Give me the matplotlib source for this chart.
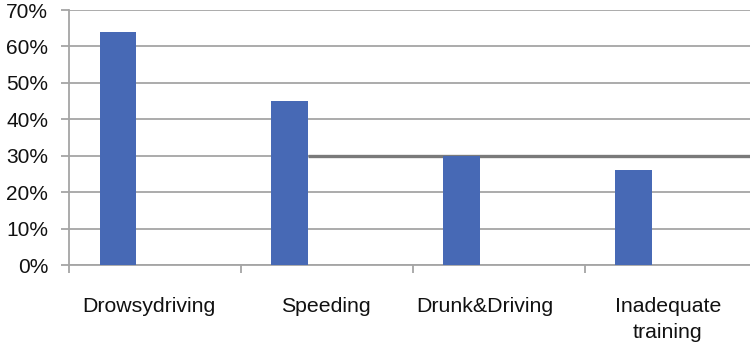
import numpy as np
import matplotlib
matplotlib.use("Agg")
import matplotlib.pyplot as plt
import matplotlib.transforms as mtransforms
from matplotlib.ticker import PercentFormatter

plt.rcParams['font.family'] = ['Liberation Sans', 'DejaVu Sans']

# Share of accidents by cause
causes = ['Drowsydriving', 'Speeding', 'Drunk&Driving', 'Inadequate\ntraining']
shares = [0.64, 0.45, 0.30, 0.26]
y_ticks = [0.0, 0.1, 0.2, 0.3, 0.4, 0.5, 0.6, 0.7]
ref_level = 0.30

grid_col = '#a5a5a5'
bar_col = '#4769b5'

fig = plt.figure(figsize=(7.5, 3.47), dpi=100)
ax = fig.add_axes([0.092, 0.236, 0.917, 0.735])

x = np.arange(len(causes))
bar_w = 0.215
ax.bar(x - bar_w, shares, width=bar_w, color=bar_col, zorder=3)

# darker reference line at 30% starting right of the Speeding bar
ax.hlines(ref_level, x[1] - bar_w / 2, 3.6, color='#7a7a7a', lw=2.4, zorder=2)

ax.set_xlim(-0.5, 3.5)
ax.set_ylim(0, 0.7)
ax.set_yticks(y_ticks)
ax.yaxis.set_major_formatter(PercentFormatter(1.0, decimals=0))
ax.yaxis.grid(True, color=grid_col, lw=1.3, zorder=1)
ax.set_axisbelow(True)

ax.set_xticks(x)
ax.set_xticklabels(causes, linespacing=1.45)
ax.set_xticks(np.arange(len(causes)) - 0.5, minor=True)
ax.tick_params(axis='x', which='major', length=0, pad=23, labelsize=15.3, colors='#111111')
ax.tick_params(axis='x', which='minor', length=6, width=1.3, color=grid_col)
ax.tick_params(axis='y', length=6, width=1.3, color=grid_col, pad=9, labelsize=15,
               labelcolor='#111111')

# nudge the category labels sideways (pixels)
shifts = [-6, -1, -14, -3]
for lab, dx in zip(ax.get_xticklabels(), shifts):
    lab.set_transform(lab.get_transform() +
                      mtransforms.ScaledTranslation(dx / 100, 0, fig.dpi_scale_trans))

for side in ['top', 'right']:
    ax.spines[side].set_visible(False)
for side in ['left', 'bottom']:
    ax.spines[side].set_color(grid_col)
    ax.spines[side].set_linewidth(1.3)

fig.savefig('out.png', dpi=100)
